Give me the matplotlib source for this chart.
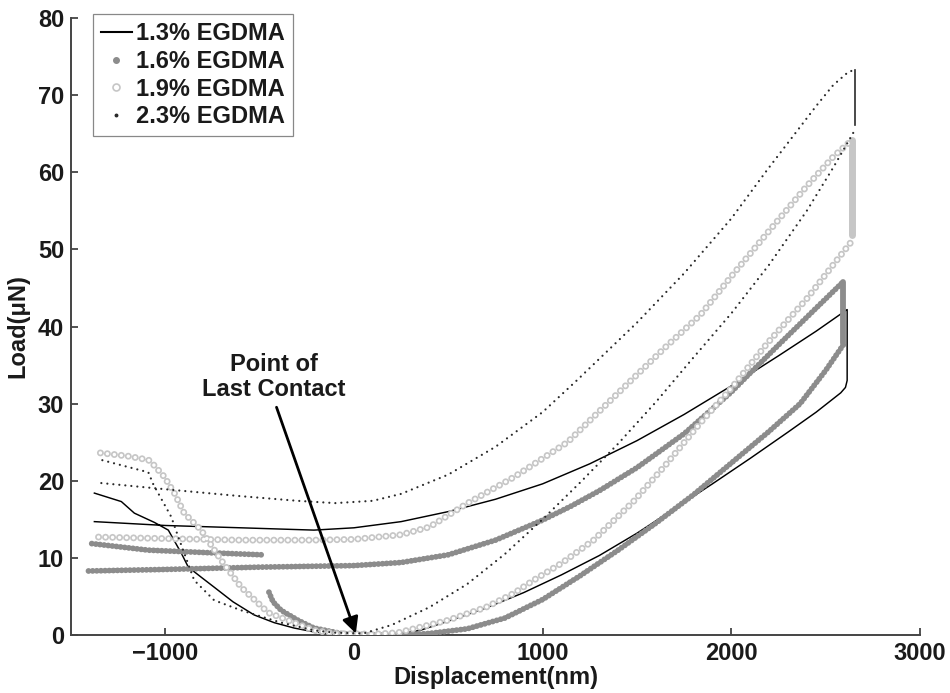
import matplotlib
matplotlib.use("Agg")
import matplotlib.pyplot as plt
from matplotlib.lines import Line2D

plt.rcParams['font.family'] = ['Liberation Sans', 'DejaVu Sans']
plt.rcParams['font.weight'] = 'bold'

# ---------------- data (displacement nm, load uN) ----------------
labels = ["1.3% EGDMA", "1.6% EGDMA", "1.9% EGDMA", "2.3% EGDMA"]

# 1.3% EGDMA : one continuous trace (load -> hold -> unload -> pull-off)
s13_x = [-1376, -1000, -600, -212, 0, 250, 500, 750, 1000, 1250, 1500, 1750, 2000, 2250, 2450, 2614,
         2614, 2605, 2580, 2450, 2300, 2100, 1900, 1700, 1500, 1300, 1100, 900, 700, 500, 350, 250,
         100, -100, -212, -317, -423, -529, -641, -741, -810, -878, -915, -984, -1058, -1164, -1233, -1376]
s13_y = [14.7, 14.2, 13.9, 13.6, 13.9, 14.7, 16.0, 17.6, 19.6, 22.2, 25.2, 28.6, 32.3, 36.2, 39.4, 42.2,
         33.0, 32.1, 31.4, 28.9, 26.3, 22.9, 19.6, 16.4, 13.2, 10.3, 7.8, 5.5, 3.5, 1.8, 0.6, 0.2,
         0.1, 0.1, 0.4, 0.9, 1.6, 2.6, 4.3, 6.2, 7.5, 8.8, 10.6, 13.6, 14.6, 15.8, 17.3, 18.4]

# 1.6% EGDMA
s16_load_x = [-1407, -1000, -500, 0, 250, 500, 750, 1000, 1150, 1300, 1500, 1750, 2000, 2085, 2250, 2450, 2593]
s16_load_y = [8.3, 8.5, 8.8, 9.0, 9.4, 10.4, 12.3, 14.9, 16.7, 18.7, 21.7, 26.1, 31.5, 33.6, 37.6, 42.4, 45.8]
s16_hold_x = [2593, 2593]
s16_hold_y = [45.8, 37.9]
s16_unload_x = [2593, 2500, 2365, 2200, 2000, 1800, 1600, 1400, 1200, 1000, 800, 600, 400, 265,
                100, -69, -212, -296, -386, -429, -455]
s16_unload_y = [37.6, 34.3, 30.0, 26.4, 22.3, 18.2, 14.5, 11.0, 7.7, 4.6, 2.2, 0.8, 0.2, 0.0,
                0.0, 0.2, 0.9, 1.9, 3.2, 4.3, 5.8]
s16_retract_x = [-492, -800, -1090, -1407]
s16_retract_y = [10.4, 10.7, 11.0, 11.9]

# 1.9% EGDMA
s19_load_x = [-1354, -1000, -600, -212, 0, 249, 400, 603, 850, 1132, 1300, 1481, 1650, 1836, 2000, 2190, 2400, 2540, 2640]
s19_load_y = [12.7, 12.5, 12.3, 12.3, 12.4, 13.0, 14.0, 17.1, 20.5, 25.0, 29.0, 33.3, 37.3, 41.5, 46.5, 52.1, 58.2, 62.0, 64.2]
s19_hold_x = [2640, 2640]
s19_hold_y = [64.2, 51.9]
s19_unload_x = [2630, 2540, 2400, 2190, 2000, 1836, 1650, 1481, 1270, 1100, 952, 847, 700, 497, 233, 100,
                -100, -212, -455, -598, -704, -810, -900, -952, -1005, -1074, -1090, -1200, -1376]
s19_unload_y = [50.8, 48.0, 43.6, 37.8, 32.0, 27.5, 22.0, 17.3, 12.3, 9.3, 7.1, 5.4, 3.6, 1.9, 0.3, 0.1,
                0.2, 0.6, 2.9, 6.2, 9.7, 13.6, 15.8, 18.4, 20.5, 22.4, 22.7, 23.2, 23.7]

# 2.3% EGDMA
s23_load_x = [-1339, -1000, -600, -300, -100, 100, 250, 500, 750, 1000, 1185, 1500, 1750, 2000, 2190, 2450, 2540, 2620, 2656]
s23_load_y = [19.7, 18.9, 18.0, 17.4, 17.1, 17.4, 18.3, 20.8, 24.4, 28.9, 33.1, 40.5, 46.9, 54.0, 60.3, 68.6, 71.3, 73.0, 73.3]
s23_hold_x = [2656, 2656]
s23_hold_y = [73.3, 66.1]
s23_unload_x = [2646, 2540, 2400, 2200, 2000, 1800, 1600, 1400, 1200, 1000, 800, 600, 400, 200, 50,
                -100, -212, -386, -598, -741, -847, -931, -968, -1063, -1090, -1200, -1339]
s23_unload_y = [65.1, 60.6, 55.0, 48.0, 41.7, 36.0, 30.2, 24.8, 19.8, 15.0, 10.5, 6.6, 3.6, 1.3, 0.2,
                0.3, 0.6, 1.6, 3.2, 4.5, 7.1, 12.7, 15.3, 19.5, 21.1, 21.8, 22.7]

x_ticks = [-1000, 0, 1000, 2000, 3000]
y_ticks = [0, 10, 20, 30, 40, 50, 60, 70, 80]

annot_text = "Point of\nLast Contact"
annot_xy = (10, 0.2)
annot_text_xy = (-423, 33.5)

# ---------------- styles ----------------
c13 = 'black'
c16 = '#8c8c8c'
c19 = '#c6c6c6'
c23 = '#2a2a2a'
txt = '#1a1a1a'
FS = 17

fig = plt.figure(figsize=(9.5, 6.93), dpi=100)
ax = fig.add_axes([0.0747, 0.0837, 0.8937, 0.8903])

# 1.3 solid line
ax.plot(s13_x, s13_y, color=c13, lw=1.05, zorder=2)

# 1.6 dense filled dots
dots16 = dict(color=c16, lw=4.2, ls=(0, (0.01, 0.70)), dash_capstyle='round', zorder=3)
ax.plot(s16_load_x, s16_load_y, **dots16)
ax.plot(s16_unload_x, s16_unload_y, **dots16)
ax.plot(s16_retract_x, s16_retract_y, **dots16)
ax.plot(s16_hold_x, s16_hold_y, color=c16, lw=4.2, solid_capstyle='round', zorder=3)

# 1.9 hollow circles (ring + white centre, same dash period)
ring = dict(color=c19, lw=5.0, ls=(0, (0.01, 1.0)), dash_capstyle='round', zorder=4)
hole = dict(color='white', lw=2.5, ls=(0, (0.02, 2.0)), dash_capstyle='round', zorder=4.1)
for xs, ys in [(s19_load_x, s19_load_y), (s19_unload_x, s19_unload_y)]:
    ax.plot(xs, ys, **ring)
    ax.plot(xs, ys, **hole)
ax.plot(s19_hold_x, s19_hold_y, color=c19, lw=5.0, solid_capstyle='round', zorder=4)

# 2.3 small dots
dots23 = dict(color=c23, lw=1.6, ls=(0, (0.01, 2.7)), dash_capstyle='round', zorder=5)
ax.plot(s23_load_x, s23_load_y, **dots23)
ax.plot(s23_unload_x, s23_unload_y, **dots23)
ax.plot(s23_hold_x, s23_hold_y, color=c23, lw=1.2, zorder=5)

ax.set_xlim(-1500, 3000)
ax.set_ylim(0, 80)
ax.set_xticks(x_ticks)
ax.set_yticks(y_ticks)
for s in ['top', 'right']:
    ax.spines[s].set_visible(False)
for s in ['left', 'bottom']:
    ax.spines[s].set_color('#444444')
    ax.spines[s].set_linewidth(1.4)
ax.tick_params(direction='in', length=5, width=1.3, color='#444444',
               labelsize=FS, pad=5, labelcolor=txt)
for lab in ax.get_xticklabels() + ax.get_yticklabels():
    lab.set_fontweight('bold')

ax.set_xlabel("Displacement(nm)", fontsize=FS, fontweight='bold', labelpad=1, color=txt)
ax.set_ylabel("Load(\u03bcN)", fontsize=FS, fontweight='bold', labelpad=6, color=txt)

ax.annotate(annot_text, xy=annot_xy, xytext=annot_text_xy, ha='center', va='center',
            fontsize=FS, fontweight='bold', color=txt, linespacing=1.1,
            arrowprops=dict(arrowstyle='-|>', lw=2.0, color='black', mutation_scale=24,
                            relpos=(0.5, 0.0), shrinkA=3, shrinkB=0), zorder=10)

handles = [
    Line2D([], [], color=c13, lw=1.5),
    Line2D([], [], ls='none', marker='o', ms=4, mfc=c16, mec=c16),
    Line2D([], [], ls='none', marker='o', ms=5, mfc='none', mec=c19, mew=1.2),
    Line2D([], [], ls='none', marker='o', ms=1.8, mfc=c23, mec=c23),
]
leg = ax.legend(handles, labels, loc='upper left', bbox_to_anchor=(0.026, 1.006),
                borderaxespad=0, fancybox=False, framealpha=1, edgecolor='#888888',
                prop={'size': FS, 'weight': 'bold'}, handlelength=1.3, handletextpad=0.2,
                labelspacing=0.2, borderpad=0.33)
leg.get_frame().set_linewidth(0.9)
for t in leg.get_texts():
    t.set_color(txt)

fig.savefig('out.png', dpi=100)
